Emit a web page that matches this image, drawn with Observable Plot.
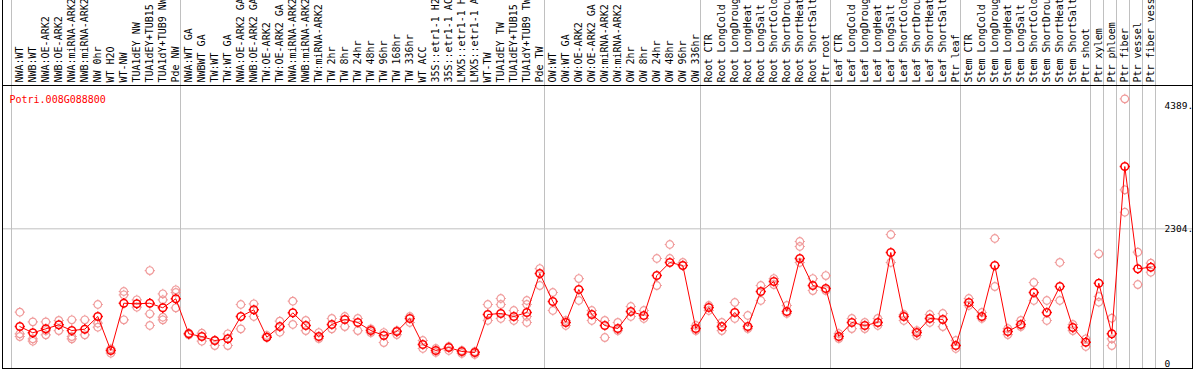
<!DOCTYPE html>
<html><head><meta charset="utf-8">
<script src="https://cdn.jsdelivr.net/npm/d3@7"></script>
<script src="https://cdn.jsdelivr.net/npm/@observablehq/plot@0.6"></script>
<style>html,body{margin:0;padding:0;background:#fff}svg{display:block}</style>
</head><body><div id="chart"></div>
<script>
const geneId = "Potri.008G088800";
const categories = [
 "NWA:WT","NWB:WT","NWA:OE-ARK2","NWB:OE-ARK2","NWA:miRNA-ARK2","NWB:miRNA-ARK2","NW 0hr","WT H2O","WT-NW","TUA1dEY NW","TUA1dEY+TUB15","TUA1dY+TUB9 NW","Pde NW",
 "NWA:WT GA","NWBWT GA","TW:WT","TW:WT GA","NWA:OE-ARK2 GA","NWB:OE-ARK2 GA","TW:OE-ARK2","TW:OE-ARK2 GA","NWA:miRNA-ARK2","NWB:miRNA-ARK2","TW:miRNA-ARK2","TW 2hr","TW 8hr","TW 24hr","TW 48hr","TW 96hr","TW 168hr","TW 336hr","WT ACC","35S::etr1-1 H2","35S::etr1-1 AC","LMX5::etr1-1 H","LMX5::etr1-1 A","WT-TW","TUA1dEY TW","TUA1dEY+TUB15","TUA1dY+TUB9 TW","Pde TW",
 "OW:WT","OW:WT GA","OW:OE-ARK2","OW:OE-ARK2 GA","OW:miRNA-ARK2","OW:miRNA-ARK2","OW 2hr","OW 8hr","OW 24hr","OW 48hr","OW 96hr","OW 336hr",
 "Root CTR","Root LongCold","Root LongDroug","Root LongHeat","Root LongSalt","Root ShortCold","Root ShortDrou","Root ShortHeat","Root ShortSalt","Ptr root",
 "Leaf CTR","Leaf LongCold","Leaf LongDroug","Leaf LongHeat","Leaf LongSalt","Leaf ShortCold","Leaf ShortDrou","Leaf ShortHeat","Leaf ShortSalt","Ptr leaf",
 "Stem CTR","Stem LongCold","Stem LongDroug","Stem LongHeat","Stem LongSalt","Stem ShortCold","Stem ShortDrou","Stem ShortHeat","Stem ShortSalt","Ptr shoot",
 "Ptr xylem","Ptr phloem","Ptr fiber","Ptr vessel","Ptr fiber vess"
];
const means = [
 641,534,602,670,573,596,812,233,1038,1028,1038,960,1113,
 517,471,403,432,812,926,459,641,875,659,471,676,761,710,573,488,556,778,335,233,284,216,199,846,863,812,880,1543,
 1067,710,1271,846,659,607,897,829,1509,1731,1680,607,
 965,641,880,641,1237,1407,897,1799,1339,1288,
 471,710,659,710,1901,812,539,778,761,318,
 1050,812,1680,556,676,1220,880,1322,624,374,
 1378,517,3364,1623,1651
];
const replicates = [
 [885,517,471],[721,432,391],[721,500,573],[744,573],[756,471,432],[756,500],[1016,698,630],[262,187],[1237,1181,756],[1096,970],[1594,858,659],[1198,1096,800,756],[1266,1220,960],
 [528,500],[528,391],[403,318],[517,318],[1016,602],[1028,812],[488,459],[732,545],[1072,676],[744,573],[539,437],[778,602],[812,641],[778,573],[602,539],[539,369],[573,505],[812,710],[403,267],[267,199],[301,233],[233,182],[216,165],[1016,744],[1118,1016,778],[914,744],[1084,1016,812,710],[1628,1339],
 [1220,914],[744,659],[1458,1084],[914,744],[744,454],[710,573],[982,812],[914,778],[1799,1339],[1799,2037],[1731,1680],[659,573],
 [999,914],[710,573],[1050,778],[829,607],[1339,1084],[1458,1356],[999,863],[2088,2003,1731],[1458,1254],[1509,1254],
 [522,437],[778,607],[710,607],[778,659],[2207,1731],[846,744],[573,488],[846,710],[863,641],[403,267],
 [1118,999],[880,778],[2139,1322],[607,505],[744,641],[1390,1084],[1084,744],[1731,1084],[676,573],[432,301],
 [1879,1152,1055],[783,432,318],[4516,2968,2586],[1906,1356],[1719,1565]
];
const groupStarts = [0,13,41,53,63,73,83,84,85,86,87,88];
const yTicks = [0,2304,4389];
const yTickLabels = ["0","2304.","4389."];

const repRows = replicates.flatMap((vals,i)=>vals.map(v=>({i,v})));
const meanRows = means.map((v,i)=>({i,v}));
const font = "'DejaVu Sans Mono', monospace";

const marker = {draw(ctx,size){
  const r = Math.sqrt(size/Math.PI);
  ctx.moveTo(r,0); ctx.arc(0,0,r,0,2*Math.PI);
  const a = r, b = r+1.3;
  ctx.moveTo(0,-b); ctx.lineTo(0,-a);
  ctx.moveTo(0,a); ctx.lineTo(0,b);
  ctx.moveTo(-b,0); ctx.lineTo(-a,0);
  ctx.moveTo(a,0); ctx.lineTo(b,0);
}};

const plot = Plot.plot({
  width:1194, height:370,
  marginTop:85, marginBottom:2, marginLeft:2, marginRight:2,
  style:{fontFamily:font, fontSize:"10px", background:"#fff", color:"#000"},
  x:{type:"linear", domain:[0,87], range:[19.3,1150.3], axis:null},
  y:{domain:[0,4389], range:[363.7,105.8], axis:null},
  marks:[
    Plot.ruleY([2304], {stroke:"#c0c0c0"}),
    Plot.ruleX(groupStarts, {x:d=>d, dx:-8.3, stroke:"#c0c0c0", insetTop:-85}),
    Plot.frame({stroke:"#000", insetTop:-90}),
    Plot.frame({stroke:"#000"}),
    Plot.text(categories, {x:(d,i)=>i, text:d=>d, frameAnchor:"top", dy:-3, rotate:-90, textAnchor:"start", lineAnchor:"middle", fill:"#000"}),
    Plot.text(yTicks, {y:d=>d, text:(d,i)=>yTickLabels[i], frameAnchor:"right", dx:-28, textAnchor:"start", fontSize:9.5, fill:"#000"}),
    Plot.text([geneId], {frameAnchor:"top-left", dx:7, dy:10, textAnchor:"start", fill:"#ff0000"}),
    Plot.dot(repRows, {x:"i", y:"v", r:3.8, symbol:marker, stroke:"#f09a9a", strokeWidth:1.2, fill:"none"}),
    Plot.line(meanRows, {x:"i", y:"v", stroke:"#ff0000", strokeWidth:1}),
    Plot.dot(meanRows, {x:"i", y:"v", r:3.8, symbol:marker, stroke:"#ff0000", strokeWidth:1.5, fill:"none"})
  ]
});
document.getElementById("chart").appendChild(plot);
</script></body></html>
